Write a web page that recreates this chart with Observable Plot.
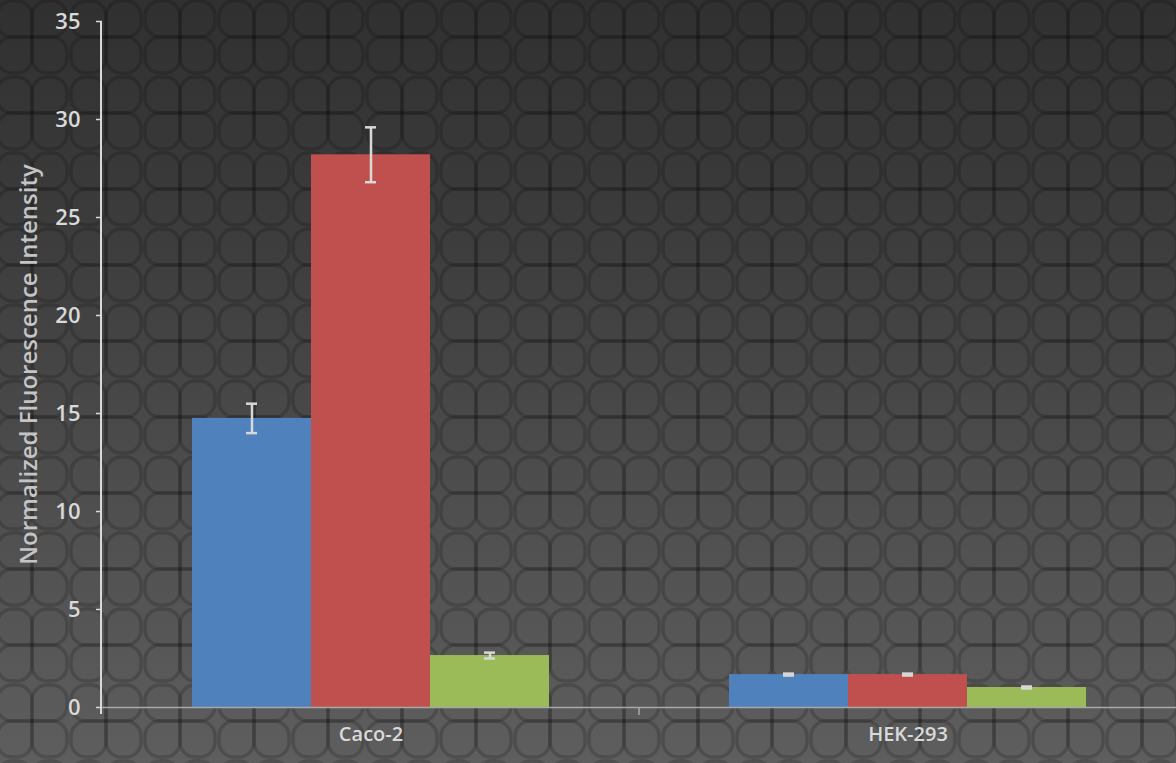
<!DOCTYPE html>
<html>
<head>
<meta charset="utf-8">
<script src="https://cdn.jsdelivr.net/npm/d3@7"></script>
<script src="https://cdn.jsdelivr.net/npm/@observablehq/plot@0.6"></script>
<style>
  html, body { margin: 0; padding: 0; width: 1176px; height: 763px; overflow: hidden; }
  body {
    background-color: #454545;
    background-image:
      url("data:image/svg+xml;utf8,<svg xmlns='http://www.w3.org/2000/svg' width='74' height='76'><g fill='none' stroke='rgba(0,0,0,0.17)' stroke-width='3.5'><path d='M37,38 H17 A15,15 0 0 1 2,23 V17 A15,15 0 0 1 17,2 H22 A15,15 0 0 1 37,17 Z'/><path d='M37,38 H57 A15,15 0 0 0 72,23 V17 A15,15 0 0 0 57,2 H52 A15,15 0 0 0 37,17 Z'/><path d='M37,38 H17 A15,15 0 0 0 2,53 V59 A15,15 0 0 0 17,74 H22 A15,15 0 0 0 37,59 Z'/><path d='M37,38 H57 A15,15 0 0 1 72,53 V59 A15,15 0 0 1 57,74 H52 A15,15 0 0 1 37,59 Z'/></g></svg>"),
      linear-gradient(#303030, #3c3c3c 30%, #4e4e4e 65%, #5e5e5e);
    background-position: -5px -1px, 0 0;
    font-family: "Open Sans", sans-serif;
  }
  #chart svg { display: block; background: transparent; }
</style>
</head>
<body>
<div id="chart"></div>
<script>
// Data
const categories = ["Caco-2", "HEK-293"];
const series = ["A", "B", "C"];
const seriesColors = ["#4f81bd", "#c0504d", "#9bbb59"];
const valuesCaco2 = [14.75, 28.2, 2.65];
const valuesHEK293 = [1.68, 1.68, 1.02];
const errorsCaco2 = [0.75, 1.4, 0.15];
const errorsHEK293 = [0.05, 0.05, 0.05];
const yTicks = [0, 5, 10, 15, 20, 25, 30, 35];
const yTitle = "Normalized Fluorescence Intensity";

const rows = [];
[valuesCaco2, valuesHEK293].forEach((vals, ci) => {
  const errs = ci === 0 ? errorsCaco2 : errorsHEK293;
  vals.forEach((v, si) => {
    rows.push({category: categories[ci], series: series[si], value: v, lo: v - errs[si], hi: v + errs[si]});
  });
});

const textColor = "#d9d9d9";

const chart = Plot.plot({
  width: 1176,
  height: 763,
  marginLeft: 101,
  marginRight: 0,
  marginTop: 21,
  marginBottom: 56,
  style: {background: "transparent", fontFamily: "'Open Sans', sans-serif", color: textColor},
  fx: {domain: categories, padding: 0, label: null},
  x: {domain: series, paddingInner: 0, paddingOuter: 0.748, axis: null},
  y: {domain: [0, 35]},
  color: {domain: series, range: seriesColors},
  marks: [
    Plot.axisY({
      ticks: yTicks, tickSize: 6, tickPadding: 16,
      stroke: textColor, strokeWidth: 1.5, fill: textColor,
      label: yTitle, labelAnchor: "center", labelArrow: "none", labelOffset: 83
    }),
    Plot.axisFx({anchor: "bottom", tickSize: 0, tickPadding: 19, fill: textColor, label: null}),
    Plot.barY(rows, {fx: "category", x: "series", y: "value", fill: "series"}),
    Plot.ruleY([0], {stroke: "#a8a8a8", strokeWidth: 1.5}),
    Plot.ruleX(rows, {fx: "category", x: "series", y1: "lo", y2: "hi", stroke: "#d8d8d8", strokeWidth: 2.5}),
    Plot.tickY(rows, {fx: "category", x: "series", y: "lo", stroke: "#d8d8d8", strokeWidth: 2.5, insetLeft: 54, insetRight: 54}),
    Plot.tickY(rows, {fx: "category", x: "series", y: "hi", stroke: "#d8d8d8", strokeWidth: 2.5, insetLeft: 54, insetRight: 54})
  ]
});

document.getElementById("chart").appendChild(chart);

const svg = d3.select(chart);
// text styling by content
const yTickStrings = yTicks.map(String);
svg.selectAll("text").each(function() {
  const t = this.textContent;
  const sel = d3.select(this);
  if (yTickStrings.includes(t)) {
    sel.style("font-size", "22px").style("font-weight", "600");
  } else if (categories.includes(t)) {
    sel.style("font-size", "20px").style("font-weight", "600");
  } else if (t === yTitle) {
    sel.style("font-size", "24px").style("font-weight", "600").style("fill", "#c4c4c4");
  }
});

// y-axis domain line and category separator tick, placed from the library's scales
const yS = chart.scale("y");
const fxS = chart.scale("fx");
const y0 = yS.apply(0), yTop = yS.apply(35);
svg.append("line")
  .attr("x1", 101).attr("x2", 101)
  .attr("y1", yTop).attr("y2", y0 + 7)
  .attr("stroke", textColor).attr("stroke-width", 2);
categories.slice(1).forEach(c => {
  const xs = fxS.apply(c);
  svg.append("line")
    .attr("x1", xs).attr("x2", xs)
    .attr("y1", y0).attr("y2", y0 + 8)
    .attr("stroke", "#a8a8a8").attr("stroke-width", 1.5);
});
</script>
</body>
</html>
